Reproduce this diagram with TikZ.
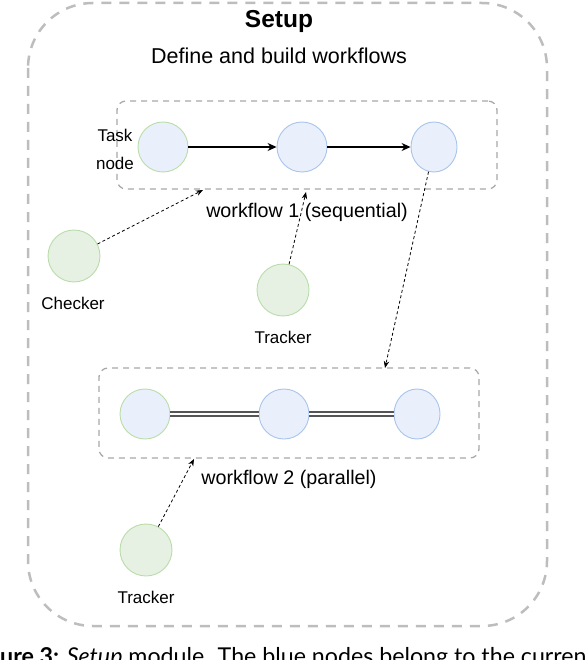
\documentclass[tikz,border=0pt]{standalone}
\usepackage{fontspec}
\setmainfont{Liberation Sans}
\newfontfamily\capfont{Lato}
\definecolor{SETgray}{HTML}{BDBDBD}
\definecolor{WFgray}{HTML}{A8A8A8}
\definecolor{TASKfill}{HTML}{E9F0FC}
\definecolor{TASKline}{HTML}{A9C4EB}
\definecolor{HELPfill}{HTML}{E6F1E4}
\definecolor{HELPline}{HTML}{B9DDA8}
\definecolor{PARgray}{HTML}{555555}
\usetikzlibrary{arrows.meta, positioning, shapes.geometric}

\begin{document}
\begin{tikzpicture}[x=1pt, y=-1pt,
   tasknode/.style={circle, draw=TASKline, fill=TASKfill, line width=0.9pt,
      minimum size=50pt, inner sep=0pt},
   firsttask/.style={tasknode, draw=HELPline},
   lasttask/.style={ellipse, draw=TASKline, fill=TASKfill, line width=0.9pt,
      minimum width=46pt, minimum height=50pt, inner sep=0pt},
   helpernode/.style={circle, draw=HELPline, fill=HELPfill, line width=0.9pt,
      minimum size=52pt, inner sep=0pt},
   wfbox/.style={draw=WFgray, line width=1.3pt, dash pattern=on 6pt off 5pt,
      rounded corners=9pt, minimum width=380pt, inner sep=0pt},
   seqlink/.style={-{Stealth[length=9pt,width=8pt]}, line width=1.1pt},
   parlink/.style={draw=PARgray, double=white, line width=1.6pt, double distance=2pt},
   dotlink/.style={-{Stealth[length=7pt,width=5.5pt]}, line width=0.8pt,
      dash pattern=on 3pt off 2.5pt},
   lbl/.style={font=\fontsize{17}{17}\selectfont, anchor=base, inner sep=0pt}
]
   \useasboundingbox (0,0) rectangle (584,660);
   % Setup module frame
   \draw[SETgray, line width=2.5pt, dash pattern=on 10pt off 8pt,
      rounded corners=65pt] (28,3) rectangle (547,626);
   \node[font=\bfseries\fontsize{24.5}{24.5}\selectfont, anchor=base] (title) at (279,28) {Setup};
   \node[font=\fontsize{21.5}{21.5}\selectfont, anchor=base] (subtitle) at (279,64)
      {Define and build workflows};

   % Workflow 1 (sequential)
   \node[wfbox, minimum height=88pt] (wf1) at (307,145) {};
   \node[firsttask] (s1) at (163,147) {};
   \node[tasknode] (s2) at (302,147) {};
   \node[lasttask] (s3) at (434,147) {};
   \draw[seqlink] (s1) -- (s2);
   \draw[seqlink] (s2) -- (s3);
   \node[font=\fontsize{17}{28}\selectfont, align=center, inner sep=0pt] (tasklbl)
      at (115,149) {Task\\node};
   \node[font=\fontsize{19.7}{19.7}\selectfont, anchor=base] (wf1lbl) at (307,217)
      {workflow 1 (sequential)};

   % Workflow 2 (parallel)
   \node[wfbox, minimum height=90pt] (wf2) at (289,413) {};
   \node[firsttask] (p1) at (145,414) {};
   \node[tasknode] (p2) at (284,414) {};
   \node[lasttask] (p3) at (417,414) {};
   \draw[parlink] (p1) -- (p2);
   \draw[parlink] (p2) -- (p3);
   \node[font=\fontsize{19.7}{19.7}\selectfont, anchor=base] (wf2lbl) at (289,484)
      {workflow 2 (parallel)};

   % Checker and trackers
   \node[helpernode] (checker) at (74,256) {};
   \node[lbl] (checkerlbl) at (73,309) {Checker};
   \node[helpernode] (trackA) at (283,290) {};
   \node[lbl] (trackAlbl) at (283,343) {Tracker};
   \node[helpernode] (trackB) at (146,550) {};
   \node[lbl] (trackBlbl) at (146,603) {Tracker};

   % Dotted links onto the workflow frames
   \coordinate (chkin) at (203,190);
   \coordinate (trAin) at (306,192);
   \coordinate (wf2in) at (385,368);
   \coordinate (trBin) at (194,459);
   \draw[dotlink] (checker) -- (chkin);
   \draw[dotlink] (trackA) -- (trAin);
   \draw[dotlink] (s3) -- (wf2in);
   \draw[dotlink] (trackB) -- (trBin);

   % Caption (cut by the page)
   \node[font=\capfont\fontsize{23.2}{23.2}\selectfont, anchor=base west, inner sep=0pt]
      (caption) at (0,664) {\llap{\textbf{Fig}}\textbf{ure 3:} \textit{Setup} module.
      The blue nodes belong to the current};
\end{tikzpicture}
\end{document}
